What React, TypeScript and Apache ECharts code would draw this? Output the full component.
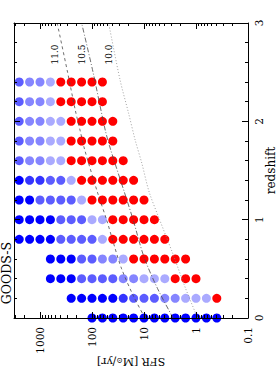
import React, { useEffect, useRef } from "react";
import * as echarts from "echarts";

// ---- data -----------------------------------------------------------
// redshift rows (bottom to top)
const REDSHIFTS = [0.0, 0.2, 0.4, 0.6, 0.8, 1.0, 1.2, 1.4, 1.6, 1.8, 2.0, 2.2, 2.4];
// log10 SFR grid columns
const LOG_SFR_GRID = [3.4, 3.2, 3.0, 2.8, 2.6, 2.4, 2.2, 2.0, 1.8, 1.6, 1.4, 1.2, 1.0, 0.8, 0.6, 0.4, 0.2, 0.0, -0.2, -0.4];
// class of each cell per row ('.' = empty, 0..4 = blue shades, R = red)
const ROW_CLASSES = [
  ".......0000000000000", // z=0.0
  ".....00000122233444R", // z=0.2
  "...000222233444RRR..", // z=0.4
  "...00022334RRRRRR...", // z=0.6
  "000022224RRRRRR.....", // z=0.8
  "000022244RRRRR......", // z=1.0
  "0022224RRRRRR.......", // z=1.2
  "011224RRRRRR........", // z=1.4
  "23344RRRRRR.........", // z=1.6
  "23344RRRRR..........", // z=1.8
  "23344RRRRR..........", // z=2.0
  "2334RRRRR...........", // z=2.2
  "2334RRRRR...........", // z=2.4
];
const CLASS_COLORS: Record<string, string> = {
  "0": "#0000ff",
  "1": "#3434ff",
  "2": "#5c5cff",
  "3": "#8585ff",
  "4": "#aaaaff",
  R: "#ff0000",
};

// mass-limit curves: [redshift, log10 SFR]
const MASS_LIMIT_LABELS = ["11.0", "10.5", "10.0"];
const CURVE_11_0 = [[0, 0.98], [0.22, 1.2], [0.5, 1.43], [0.75, 1.58], [1.0, 1.72], [1.27, 1.89], [1.71, 2.14], [1.91, 2.23], [2.11, 2.32], [2.5, 2.47], [3.0, 2.67]];
const CURVE_10_5 = [[0, 0.44], [0.3, 0.74], [0.62, 1.0], [1.0, 1.21], [1.3, 1.39], [1.71, 1.64], [1.91, 1.745], [2.5, 1.98], [3.0, 2.2]];
const CURVE_10_0 = [[0, -0.03], [0.3, 0.2], [0.66, 0.45], [1.0, 0.7], [1.28, 0.9], [1.57, 1.04], [1.81, 1.17], [2.09, 1.3], [2.42, 1.46], [3.0, 1.68]];
// label anchors [log10 SFR, redshift]
const MASS_LABEL_POS = [[2.71, 2.68], [2.195, 2.68], [1.68, 2.68]];

// axis ticks
const SFR_TICK_VALUES = [0.1, 1, 10, 100, 1000];
const SFR_TICK_LABELS = ["0.1", "1", "10", "100", "1000"];
const REDSHIFT_TICKS = [0, 1, 2, 3];
const REDSHIFT_TICK_LABELS = ["0", "1", "2", "3"];

const FONT = "DejaVu Serif";

export default function App() {
  const ref = useRef<HTMLDivElement>(null);

  useEffect(() => {
    if (!ref.current) return;
    const chart = echarts.init(ref.current, undefined, { renderer: "svg" });

    const majorLogs = SFR_TICK_VALUES.map((v) => Math.round(Math.log10(v)));
    const minorLogs: number[] = [];
    SFR_TICK_VALUES.forEach((d) => {
      for (let k = 2; k <= 9; k++) {
        const l = Math.log10(k * d);
        if (l <= 3.5) minorLogs.push(l);
      }
    });

    const points: any[] = [];
    ROW_CLASSES.forEach((row, ri) => {
      for (let ci = 0; ci < row.length; ci++) {
        const c = row[ci];
        if (c === ".") continue;
        points.push({
          value: [LOG_SFR_GRID[ci], REDSHIFTS[ri]],
          itemStyle: { color: CLASS_COLORS[c] },
        });
      }
    });

    const lineStyleAx = { color: "#000", width: 1 };
    const commonX: any = {
      type: "value",
      min: -1,
      max: 3.5,
      inverse: true,
      splitLine: { show: false },
      z: 5,
    };
    const commonY: any = {
      type: "value",
      min: 0,
      max: 3,
      interval: 1,
      splitLine: { show: false },
      z: 5,
    };
    const sfrFormatter = (v: number) => {
      const i = majorLogs.findIndex((t) => Math.abs(t - v) < 1e-6);
      return i >= 0 ? SFR_TICK_LABELS[i] : "";
    };
    const zFormatter = (v: number) => {
      const i = REDSHIFT_TICKS.findIndex((t) => Math.abs(t - v) < 1e-6);
      return i >= 0 ? REDSHIFT_TICK_LABELS[i] : "";
    };

    const curveSeries = [CURVE_11_0, CURVE_10_5, CURVE_10_0].map((c, i) => ({
      type: "line",
      name: MASS_LIMIT_LABELS[i],
      data: c.map((p) => [p[1], p[0]]),
      symbol: "none",
      smooth: 0.3,
      z: 3,
      lineStyle: {
        color: i === 2 ? "#8a8a8a" : "#4a4a4a",
        width: 0.8,
        type: i === 0 ? [3, 3] : i === 1 ? [5, 2, 1, 2] : [1, 2],
      },
    }));

    const option: any = {
      animation: false,
      grid: { left: 14, right: 32, top: 23, bottom: 56, containLabel: false, outerBoundsMode: "none" },
      xAxis: [
        {
          ...commonX,
          position: "bottom",
          axisLine: { show: true, onZero: false, lineStyle: lineStyleAx },
          axisTick: { show: true, inside: true, length: 6, customValues: majorLogs, lineStyle: lineStyleAx },
          axisLabel: {
            show: true,
            customValues: majorLogs,
            rotate: 90,
            margin: 9,
            formatter: sfrFormatter,
            fontFamily: FONT,
            fontSize: 10.5,
            color: "#000",
          },
          name: "SFR [M{sub|⊙}/yr]",
          nameLocation: "middle",
          nameGap: 38,
          nameRotate: 180,
          nameMoveOverlap: false,
          nameTextStyle: {
            fontFamily: FONT,
            fontSize: 11,
            color: "#000",
            rich: { sub: { fontFamily: FONT, fontSize: 7.5, color: "#000", verticalAlign: "bottom" } },
          },
        },
        {
          ...commonX,
          position: "bottom",
          axisLine: { show: false, onZero: false },
          axisTick: { show: true, inside: true, length: 3, customValues: minorLogs, lineStyle: lineStyleAx },
          axisLabel: { show: false },
        },
        {
          ...commonX,
          position: "top",
          axisLine: { show: true, onZero: false, lineStyle: lineStyleAx },
          axisTick: { show: true, inside: true, length: 6, customValues: majorLogs, lineStyle: lineStyleAx },
          axisLabel: { show: false },
        },
        {
          ...commonX,
          position: "top",
          axisLine: { show: false, onZero: false },
          axisTick: { show: true, inside: true, length: 3, customValues: minorLogs, lineStyle: lineStyleAx },
          axisLabel: { show: false },
        },
      ],
      yAxis: [
        {
          ...commonY,
          position: "right",
          axisLine: { show: true, onZero: false, lineStyle: lineStyleAx },
          axisTick: { show: true, inside: true, length: 6, lineStyle: lineStyleAx },
          minorTick: { show: true, splitNumber: 5, length: 3, lineStyle: lineStyleAx },
          axisLabel: {
            rotate: 90,
            margin: 5,
            formatter: zFormatter,
            fontFamily: FONT,
            fontSize: 10.5,
            color: "#000",
          },
          name: "redshift",
          nameLocation: "middle",
          nameGap: 17,
          nameRotate: 90,
          nameMoveOverlap: false,
          nameTextStyle: { fontFamily: FONT, fontSize: 12, color: "#000" },
        },
        {
          ...commonY,
          position: "left",
          axisLine: { show: true, onZero: false, lineStyle: lineStyleAx },
          axisTick: { show: true, inside: true, length: 6, lineStyle: lineStyleAx },
          minorTick: { show: true, splitNumber: 5, length: 3, lineStyle: lineStyleAx },
          axisLabel: { show: false },
        },
      ],
      series: [
        ...curveSeries,
        {
          type: "scatter",
          data: points,
          symbol: "circle",
          symbolSize: 9,
          clip: false,
          z: 2,
          itemStyle: { opacity: 1 },
        },
        {
          type: "scatter",
          data: MASS_LABEL_POS.map((p, i) => ({ value: p, name: MASS_LIMIT_LABELS[i] })),
          symbolSize: 2,
          itemStyle: { color: "rgba(0,0,0,0)" },
          z: 4,
          label: {
            show: true,
            position: "inside",
            rotate: 90,
            formatter: (p: any) => MASS_LIMIT_LABELS[p.dataIndex],
            fontFamily: FONT,
            fontSize: 9,
            color: "#000",
            opacity: 1,
            align: "center",
            verticalAlign: "middle",
          },
          labelLayout: { hideOverlap: false },
        },
      ],
      graphic: [
        {
          type: "text",
          x: 6,
          y: 273,
          rotation: Math.PI / 2,
          style: {
            text: "GOODS-S",
            fontFamily: FONT,
            fontSize: 12.5,
            fill: "#000",
            align: "center",
            verticalAlign: "middle",
            textAlign: "center",
            textVerticalAlign: "middle",
          },
        },
      ],
    };

    chart.setOption(option);
    return () => chart.dispose();
  }, []);

  return (
    <div
      ref={ref}
      style={{ position: "fixed", left: 0, top: 0, width: 280, height: 374, background: "#fff" }}
    />
  );
}
